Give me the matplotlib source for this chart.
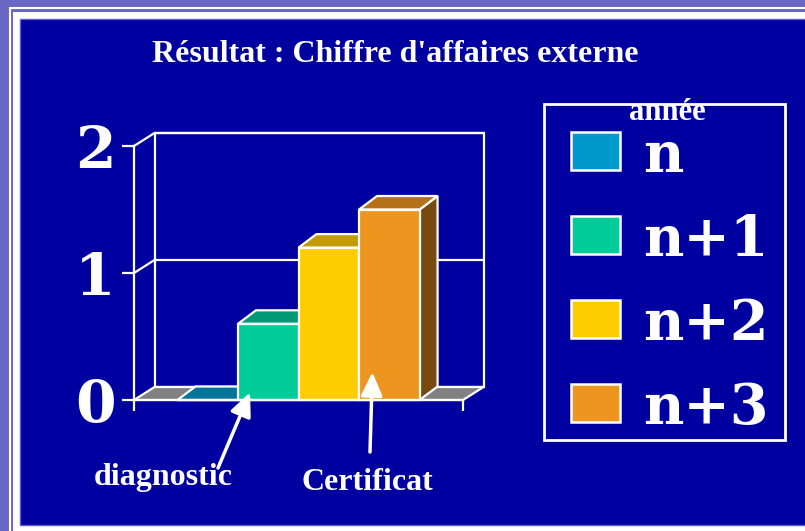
import matplotlib
matplotlib.use("Agg")
import matplotlib.pyplot as plt
from matplotlib.colors import to_rgb
from matplotlib.patches import Polygon, Rectangle

# chiffre d'affaires externe par année
annees = ["n", "n+1", "n+2", "n+3"]
chiffre = [0.0, 0.6, 1.2, 1.5]
couleurs = ["#0099cc", "#00cc99", "#ffcc00", "#ee9520"]
graduations = [0, 1, 2]

titre = "Résultat : Chiffre d'affaires externe"
titre_legende = "année"
note_diag = "diagnostic"
note_cert = "Certificat"

BLEU = "#0000a0"
BLANC = "white"
SOL = "#808080"
POLICE = "Liberation Serif"
POLICE_LARGE = "DejaVu Serif"

W, H = 805, 531


def fig_rect(x, y, w, h, **kw):
    # rectangle en pixels, origine en haut à gauche
    return Rectangle((x / W, 1 - (y + h) / H), w / W, h / H,
                     transform=fig.transFigure, **kw)


def ombre(c, f):
    r, g, b = to_rgb(c)
    return (r * f, g * f, b * f)


fig = plt.figure(figsize=(W / 100, H / 100), dpi=100, facecolor="#6868c4")

# cadre blanc + fond bleu (sous les axes)
fig.patches.append(fig_rect(10, 8, W, H, fill=False, edgecolor=BLANC, lw=1.5, zorder=-3))
fig.patches.append(fig_rect(13, 12, W, H, facecolor=BLANC, edgecolor="none", zorder=-2))
fig.patches.append(fig_rect(20, 19, W, 506, facecolor=BLEU, edgecolor="#5a5ad8", lw=1, zorder=-1))

fig.text(395 / W, 1 - 55 / H, titre, color=BLANC, fontsize=23, fontweight="bold",
         family=POLICE, ha="center", va="center")

AX_W, AX_H = 329, 254
ax = fig.add_axes([134 / W, 131 / H, AX_W / W, AX_H / H])
ax.set_facecolor("none")
x0, x1 = -0.5, 0.5
ax.set_xlim(x0, x1)
ax.set_ylim(0, 2)

# profondeur de la perspective, en unités de données
px_x = (x1 - x0) / AX_W
px_y = 2 / AX_H
dx, dy = 20.5 * px_x, 13 * px_y
bdx, bdy = 18 * px_x, 13.5 * px_y

lw = 1.6
ymax = graduations[-1]

# paroi du fond et paroi gauche
ax.add_patch(Polygon([(x0 + dx, dy), (x1 + dx, dy), (x1 + dx, ymax + dy), (x0 + dx, ymax + dy)],
                     closed=True, facecolor="none", edgecolor=BLANC, lw=lw, clip_on=False))
for g in graduations[1:]:
    ax.plot([x0, x0 + dx, x1 + dx], [g, g + dy, g + dy], color=BLANC, lw=lw, clip_on=False)

# sol gris
ax.add_patch(Polygon([(x0, 0), (x1, 0), (x1 + dx, dy), (x0 + dx, dy)], closed=True,
                     facecolor=SOL, edgecolor=BLANC, lw=lw, clip_on=False, zorder=1.5))

# barres en relief
larg = 0.184
depart = -larg * len(annees) / 2
for i, (v, c) in enumerate(zip(chiffre, couleurs)):
    xl = depart + i * larg
    xr = xl + larg
    ax.add_patch(Polygon([(xr, 0), (xr + bdx, bdy), (xr + bdx, v + bdy), (xr, v)], closed=True,
                         facecolor=ombre(c, 0.5), edgecolor=BLANC, lw=lw, clip_on=False, zorder=2))
    ax.add_patch(Polygon([(xl, v), (xr, v), (xr + bdx, v + bdy), (xl + bdx, v + bdy)], closed=True,
                         facecolor=ombre(c, 0.76), edgecolor=BLANC, lw=lw, clip_on=False, zorder=2))
    ax.add_patch(Rectangle((xl, 0), larg, v, facecolor=c, edgecolor=BLANC, lw=lw,
                           clip_on=False, zorder=2))

for s in ["top", "right"]:
    ax.spines[s].set_visible(False)
for s in ["left", "bottom"]:
    ax.spines[s].set_color(BLANC)
    ax.spines[s].set_linewidth(lw)

ax.set_yticks(graduations, labels=[str(g) for g in graduations], fontsize=42,
              fontweight="bold", family=POLICE_LARGE)
ax.set_xticks([x0, x1], labels=["", ""])
ax.tick_params(axis="y", colors=BLANC, length=9, width=lw, pad=4)
ax.tick_params(axis="x", colors=BLANC, length=8, width=lw)

# flèches vers les barres n+1 et n+3
fleche = dict(arrowstyle="-|>,head_length=1.1,head_width=0.5", color=BLANC, lw=2.5,
              mutation_scale=13, shrinkA=0, shrinkB=0)
ax.annotate("", xy=(depart + 1 * larg + 0.2 * larg, 0.06), xytext=(218, H - 468),
            textcoords="figure pixels", arrowprops=fleche)
ax.annotate("", xy=(depart + 3 * larg + 0.22 * larg, 0.22), xytext=(370, H - 452),
            textcoords="figure pixels", arrowprops=fleche)
fig.text(163 / W, 1 - 477 / H, note_diag, color=BLANC, fontsize=23, fontweight="bold",
         family=POLICE, ha="center", va="center")
fig.text(367 / W, 1 - 482 / H, note_cert, color=BLANC, fontsize=23, fontweight="bold",
         family=POLICE, ha="center", va="center")

# légende dessinée à la main
fig.patches.append(fig_rect(544, 104, 241, 336, facecolor=BLEU, edgecolor=BLANC, lw=2, zorder=4))
for i, (nom, c) in enumerate(zip(annees, couleurs)):
    haut = 132 + i * 84
    fig.patches.append(fig_rect(571, haut, 49, 38, facecolor=c, edgecolor=BLANC, lw=1.8, zorder=5))
    fig.text(643 / W, 1 - (haut + 40) / H, nom, color=BLANC, fontsize=40, fontweight="bold",
             family=POLICE_LARGE, ha="left", va="baseline", zorder=6)
fig.text(667 / W, 1 - 113 / H, titre_legende, color=BLANC, fontsize=22, fontweight="bold",
         family=POLICE, ha="center", va="center", zorder=6)

fig.savefig("out.png", dpi=100, facecolor=fig.get_facecolor())
